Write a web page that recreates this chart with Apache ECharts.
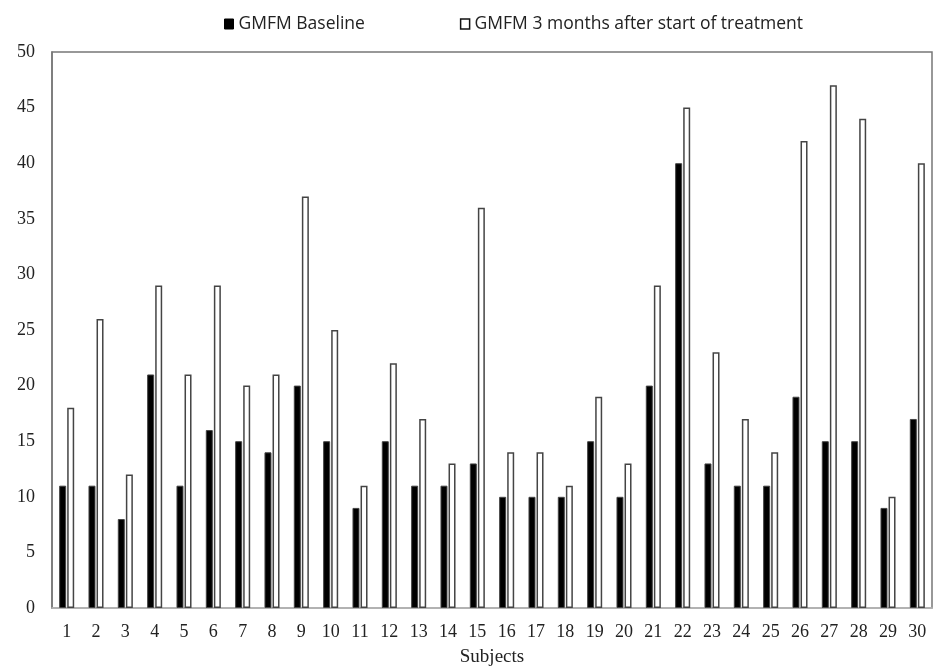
<!DOCTYPE html>
<html><head><meta charset="utf-8">
<script src="https://cdn.jsdelivr.net/npm/echarts@6/dist/echarts.min.js"></script>
<style>html,body{margin:0;padding:0;background:#fff}#c{width:933px;height:669px}</style>
</head><body><div id="c"></div>
<script>
var subjects = ['1','2','3','4','5','6','7','8','9','10','11','12','13','14','15','16','17','18','19','20','21','22','23','24','25','26','27','28','29','30'];
var baseline = [11,11,8,21,11,16,15,14,20,15,9,15,11,11,13,10,10,10,15,10,20,40,13,11,11,19,15,15,9,17];
var after3m = [18,26,12,29,21,29,20,21,37,25,11,22,17,13,36,14,14,11,19,13,29,45,23,17,14,42,47,44,10,40];
var yTicks = {min:0, max:50, interval:5};

var chart = echarts.init(document.getElementById('c'), null, {renderer:'canvas'});
chart.setOption({
  animation:false,
  backgroundColor:'#fff',
  legend:{
    top:10, left:219, itemGap:95, itemWidth:9, itemHeight:10,
    icon:'rect',
    textStyle:{fontFamily:'Open Sans, Liberation Sans, sans-serif', fontSize:17.5, color:'#222'},
    data:[
      {name:'GMFM Baseline', itemStyle:{color:'#000', borderColor:'#000', borderWidth:1}},
      {name:'GMFM 3 months after start of treatment', itemStyle:{color:'#fff', borderColor:'#111', borderWidth:1.5}}
    ]
  },
  grid:{left:52, right:1, top:52, bottom:61, show:true, borderColor:'#777', borderWidth:1.5, containLabel:false, outerBoundsMode:'none'},
  xAxis:{
    type:'category', data:subjects,
    name:'Subjects', nameLocation:'middle', nameGap:40,
    nameTextStyle:{fontFamily:'Liberation Serif, serif', fontSize:19, color:'#222'},
    axisLine:{show:true, lineStyle:{color:'#bbb', width:1.5}},
    axisTick:{show:false},
    axisLabel:{fontFamily:'Liberation Serif, serif', fontSize:18, color:'#222', margin:15}
  },
  yAxis:{
    type:'value', min:yTicks.min, max:yTicks.max, interval:yTicks.interval,
    axisLine:{show:true, lineStyle:{color:'#777', width:1.5}},
    axisTick:{show:false},
    splitLine:{show:false},
    axisLabel:{fontFamily:'Liberation Serif, serif', fontSize:18, color:'#222', margin:17}
  },
  series:[
    {name:'GMFM Baseline', type:'bar', data:baseline, barWidth:7, barGap:'15%',
     itemStyle:{color:'#000', borderColor:'#444', borderWidth:1}},
    {name:'GMFM 3 months after start of treatment', type:'bar', data:after3m, barWidth:7, barGap:'15%',
     itemStyle:{color:'#fff', borderColor:'#444', borderWidth:1.5}}
  ]
});
</script></body></html>
